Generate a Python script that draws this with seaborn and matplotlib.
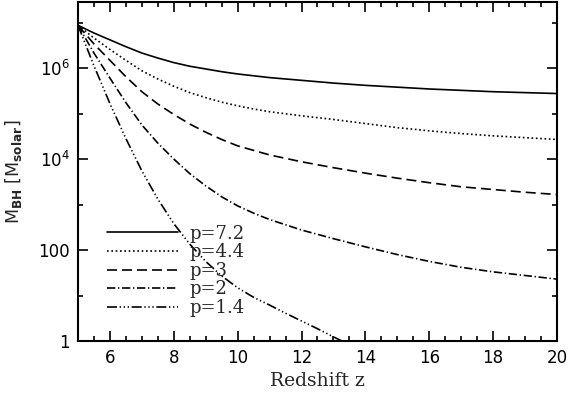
import numpy as np
import pandas as pd
import matplotlib
matplotlib.use("Agg")
import matplotlib.pyplot as plt
import seaborn as sns
from matplotlib.ticker import FixedLocator, NullFormatter, MultipleLocator

# values: redshift and log10(M_BH / M_solar)
z_grid = [5, 5.5, 6, 6.5, 7, 7.5, 8, 8.5, 9, 9.5, 10, 10.5, 11,
          12, 13, 14, 15, 16, 17, 18, 19, 20]
logm_p72 = [6.94, 6.77, 6.62, 6.47, 6.33, 6.22, 6.12, 6.04, 5.98, 5.92, 5.87,
            5.83, 5.79, 5.73, 5.67, 5.62, 5.58, 5.54, 5.51, 5.48, 5.46, 5.44]
logm_p44 = [6.94, 6.66, 6.41, 6.17, 5.94, 5.76, 5.60, 5.46, 5.35, 5.25, 5.17,
            5.10, 5.04, 4.95, 4.87, 4.78, 4.69, 4.62, 4.56, 4.51, 4.47, 4.43]
logm_p3 = [6.94, 6.53, 6.17, 5.81, 5.48, 5.21, 4.98, 4.77, 4.59, 4.43, 4.29,
           4.19, 4.09, 3.94, 3.81, 3.69, 3.58, 3.48, 3.39, 3.33, 3.27, 3.22]
logm_p2 = [6.94, 6.33, 5.78, 5.24, 4.75, 4.35, 4.00, 3.68, 3.41, 3.17, 2.97,
           2.81, 2.67, 2.44, 2.25, 2.07, 1.90, 1.75, 1.62, 1.52, 1.44, 1.36]
z_p14 = [5, 5.5, 6, 6.5, 7, 7.5, 8, 8.5, 9, 9.5, 10, 10.5, 11, 11.5, 12,
         12.5, 13, 13.5, 14]
logm_p14 = [6.94, 6.05, 5.22, 4.45, 3.74, 3.12, 2.58, 2.13, 1.75, 1.43, 1.17,
            0.96, 0.79, 0.61, 0.44, 0.27, 0.09, -0.08, -0.25]

labels = ["p=7.2", "p=4.4", "p=3", "p=2", "p=1.4"]
y_major = [1, 100, 1e4, 1e6]
y_major_labels = ["1", "100", r"$\mathregular{10^4}$", r"$\mathregular{10^6}$"]
y_minor = [10, 1e3, 1e5, 1e7]

sns.set_style("ticks")
plt.rcParams["font.family"] = ["DejaVu Sans"]
plt.rcParams["mathtext.fontset"] = "dejavusans"

fig = plt.figure(figsize=(5.68, 3.95), dpi=100)
ax = fig.add_axes([0.1373, 0.1367, 0.8433, 0.858])
ax.set_yscale("log")

series = [
    (z_grid, logm_p72, "-"),
    (z_grid, logm_p44, (0, (1, 1.6))),
    (z_grid, logm_p3, (0, (6, 3))),
    (z_grid, logm_p2, (0, (5, 1.6, 0.8, 1.6))),
    (z_p14, logm_p14, (0, (6, 1.6, 0.8, 1.6, 0.8, 1.6, 0.8, 1.6))),
]
for (zz, lm, ls), lab in zip(series, labels):
    df = pd.DataFrame({"z": zz, "m": 10 ** np.array(lm)})
    sns.lineplot(data=df, x="z", y="m", ax=ax, color="black", lw=1.2,
                 linestyle=ls, label=lab)

ax.set_xlim(5, 20)
ax.set_ylim(1, 10 ** 7.45)

ax.set_xticks([6, 8, 10, 12, 14, 16, 18, 20])
ax.xaxis.set_minor_locator(MultipleLocator(0.5))
ax.yaxis.set_major_locator(FixedLocator(y_major))
ax.set_yticklabels(y_major_labels)
ax.yaxis.set_minor_locator(FixedLocator(y_minor))
ax.yaxis.set_minor_formatter(NullFormatter())
ax.tick_params(which="both", direction="in", top=True, right=True,
               width=1.2, labelsize=12, colors="black")
ax.tick_params(which="major", length=7, pad=6)
ax.tick_params(which="minor", length=3.5)
for sp in ax.spines.values():
    sp.set_linewidth(1.5)
    sp.set_color("black")

ax.set_xlabel("Redshift z", fontsize=13.5, family="DejaVu Serif", labelpad=3)
ax.set_ylabel(r"M$_{\mathbf{BH}}$ [M$_{\mathbf{solar}}$]", fontsize=12.5,
              labelpad=10)

ax.legend(loc="upper left", bbox_to_anchor=(0.06, 0.343), frameon=False,
          prop={"family": "DejaVu Serif", "size": 13}, handlelength=3.95,
          handletextpad=0.65, labelspacing=0.03, borderpad=0, borderaxespad=0)

fig.savefig("out.png", dpi=100)
